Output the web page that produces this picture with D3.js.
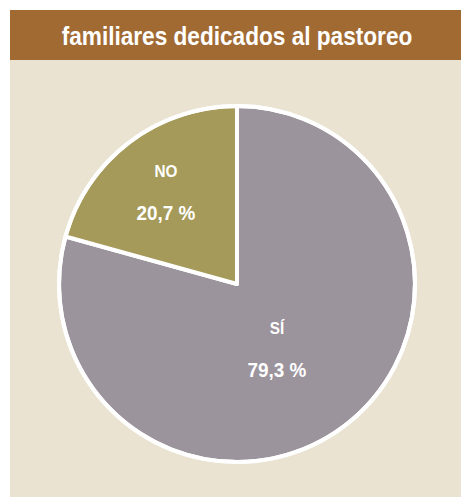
<!DOCTYPE html>
<html>
<head>
<meta charset="utf-8">
<script src="https://cdn.jsdelivr.net/npm/d3@7"></script>
<style>
  body { margin: 0; background: #fff; }
  svg text { font-family: "Liberation Sans Narrow", "Arial Narrow", "Liberation Sans", sans-serif; font-weight: bold; fill: #fff; }
</style>
</head>
<body>
<div id="container"></div>
<script>
/* DATA */
const title = "familiares dedicados al pastoreo";
const categories = ["SÍ", "NO"];
const values = [79.3, 20.7];
const valueLabels = ["79,3 %", "20,7 %"];
const colors = ["#9c949d", "#a59a59"];

/* CONSTANTS */
const width = 461, height = 497;
const panel = { x: 10, y: 10, w: 451, h: 487, bar: 50 };
const cx = 237, cy = 284, radius = 178;

const svg = d3.select("#container")
  .append("svg")
  .attr("width", width)
  .attr("height", height);

svg.append("rect")
  .attr("x", panel.x).attr("y", panel.y)
  .attr("width", panel.w).attr("height", panel.h)
  .attr("fill", "#eae3d2");

svg.append("rect")
  .attr("x", panel.x).attr("y", panel.y)
  .attr("width", panel.w).attr("height", panel.bar)
  .attr("fill", "#a16a33");

// narrow title: squeeze the regular font horizontally
svg.append("g")
  .attr("transform", "translate(237,45) scale(0.87,1)")
  .append("text")
  .attr("text-anchor", "middle")
  .style("font-size", "26px")
  .text(title);

/* PIE */
const data = categories.map((c, i) => ({ cat: c, value: values[i], label: valueLabels[i], color: colors[i] }));

const pie = d3.pie()
  .sort(null)
  .value(d => d.value);

const arc = d3.arc()
  .innerRadius(0)
  .outerRadius(radius);

const g = svg.append("g")
  .attr("transform", `translate(${cx},${cy})`);

g.selectAll("path")
  .data(pie(data))
  .join("path")
  .attr("d", arc)
  .attr("fill", d => d.data.color)
  .attr("stroke", "#fff")
  .attr("stroke-width", 4)
  .attr("stroke-linejoin", "round");

g.append("circle")
  .attr("r", radius)
  .attr("fill", "none")
  .attr("stroke", "#fff")
  .attr("stroke-width", 4);

// label positions, relative to centre
const labelPos = [[40, 63], [-71, -94]];

const lbl = g.selectAll("g.lbl")
  .data(data)
  .join("g")
  .attr("class", "lbl")
  .attr("transform", (d, i) => `translate(${labelPos[i][0]},${labelPos[i][1]}) scale(0.9,1)`);

lbl.append("text")
  .attr("text-anchor", "middle")
  .attr("y", -13)
  .style("font-size", "17px")
  .text(d => d.cat);

lbl.append("text")
  .attr("text-anchor", "middle")
  .attr("y", 30)
  .style("font-size", "21px")
  .text(d => d.label);
</script>
</body>
</html>
